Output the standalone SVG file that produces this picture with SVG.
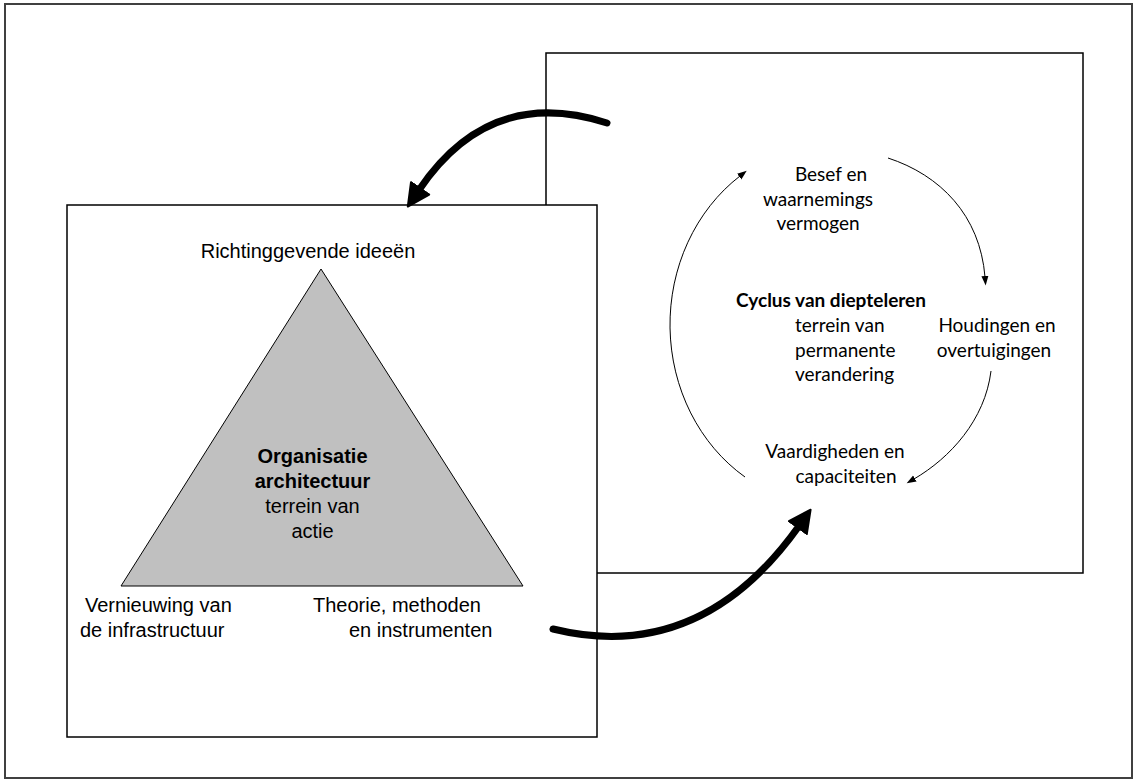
<svg xmlns="http://www.w3.org/2000/svg" width="1134" height="780" viewBox="0 0 1134 780">
<style>
.box{fill:#fff;stroke:#000;stroke-width:1.5}
.ar{font-family:"Liberation Sans",Arial,sans-serif;font-size:20px;fill:#000}
.cb{font-family:Lato,"Open Sans",sans-serif;font-size:19px;fill:#000}
.b{font-weight:bold}
.thick{fill:none;stroke:#000;stroke-width:7;stroke-linecap:round}
.thin{fill:none;stroke:#000;stroke-width:1}
</style>
<defs>
<marker id="bigHead" markerUnits="userSpaceOnUse" viewBox="0 0 26 26" markerWidth="26" markerHeight="26" refX="3" refY="13" orient="auto">
<path d="M1,2 L23,13 L1,24 Z" fill="#000" stroke="#000" stroke-width="2" stroke-linejoin="round"/>
</marker>
<marker id="smallHead" markerUnits="userSpaceOnUse" viewBox="0 0 10 8" markerWidth="10" markerHeight="8" refX="1" refY="4" orient="auto">
<path d="M0,0.5 L9.5,4 L0,7.5 Z" fill="#000"/>
</marker>
</defs>
<rect x="5" y="4" width="1127" height="774" fill="#fff" stroke="#404040" stroke-width="2"/>
<g id="cycle-box">
<rect class="box" x="546" y="53" width="537" height="520"/>
</g>
<g id="action-box">
<rect class="box" x="67" y="205" width="530" height="532"/>
</g>
<g id="triangle">
<polygon points="321,269 121,586 523,586" fill="#c0c0c0" stroke="#000" stroke-width="1"/>
<text class="ar b" x="312.5" y="463" text-anchor="middle">Organisatie</text>
<text class="ar b" x="312.5" y="488" text-anchor="middle">architectuur</text>
<text class="ar" x="312.5" y="513" text-anchor="middle">terrein van</text>
<text class="ar" x="312.5" y="538" text-anchor="middle">actie</text>
</g>
<g id="ideas">
<text class="ar" x="308" y="258" text-anchor="middle">Richtinggevende ideeën</text>
</g>
<g id="infra">
<text class="ar" x="85" y="612">Vernieuwing van</text>
<text class="ar" x="80" y="637">de infrastructuur</text>
</g>
<g id="theory">
<text class="ar" x="313" y="612">Theorie, methoden</text>
<text class="ar" x="349" y="637">en instrumenten</text>
</g>
<g id="cycle-center">
<text class="cb b" x="831" y="307" text-anchor="middle">Cyclus van diepteleren</text>
<text class="cb" x="795" y="332">terrein van</text>
<text class="cb" x="795" y="357">permanente</text>
<text class="cb" x="795" y="381">verandering</text>
</g>
<g id="besef">
<text class="cb" x="831" y="181" text-anchor="middle">Besef en</text>
<text class="cb" x="818" y="206" text-anchor="middle">waarnemings</text>
<text class="cb" x="818" y="230" text-anchor="middle">vermogen</text>
</g>
<g id="houdingen">
<text class="cb" x="997" y="332" text-anchor="middle">Houdingen en</text>
<text class="cb" x="994" y="357" text-anchor="middle">overtuigingen</text>
</g>
<g id="vaardigheden">
<text class="cb" x="835" y="458" text-anchor="middle">Vaardigheden en</text>
<text class="cb" x="846" y="483" text-anchor="middle">capaciteiten</text>
</g>
<g id="connectors">
<path class="thick" d="M607,123 Q490,85 419,190" marker-end="url(#bigHead)"/>
<path class="thick" d="M553,629 Q700,665 799,526" marker-end="url(#bigHead)"/>
<path class="thin" d="M745,477 A163,181 0 0 1 740,176" marker-end="url(#smallHead)"/>
<path class="thin" d="M888,158 C940,175 980,215 985,277" marker-end="url(#smallHead)"/>
<path class="thin" d="M991,371 C985,420 950,458 914,479" marker-end="url(#smallHead)"/>
</g>
</svg>
